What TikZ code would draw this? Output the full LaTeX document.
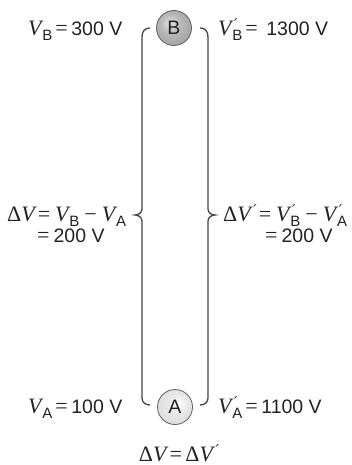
\documentclass[tikz,border=0pt]{standalone}
\usepackage{fontspec}
\setmainfont{Liberation Sans}
\newfontfamily\serifit{Liberation Serif}
\newfontfamily\dvs{DejaVu Serif}
\usetikzlibrary{calc}
\newcommand\SerSz{\fontsize{22}{24}\selectfont}
\newcommand\Vv{{\SerSz\serifit\itshape V}}
\newcommand\Dl{{\SerSz\serifit Δ}}
\newcommand\Sb[1]{\kern0.8pt\raisebox{-5pt}{\fontsize{15}{15}\selectfont #1}}
\newcommand\Prm{\rlap{\raisebox{6pt}{\kern2.5pt\fontsize{15}{15}\dvs\itshape ′}}}
\newcommand\Eq{\hspace{3pt}{\SerSz\serifit =}\hspace{3.5pt}}
\newcommand\Mn{\hspace{5pt}{\SerSz\serifit −}\hspace{5pt}}
\definecolor{txt}{HTML}{222222}
\definecolor{brk}{HTML}{444444}
\pgfdeclareradialshading{sphB}{\pgfpoint{-7bp}{8bp}}{color(0bp)=(black!12); color(14bp)=(black!28); color(30bp)=(black!36); color(50bp)=(black!52)}
\pgfdeclareradialshading{sphA}{\pgfpoint{6bp}{6bp}}{color(0bp)=(white); color(14bp)=(black!9); color(30bp)=(black!14); color(50bp)=(black!30)}
\tikzset{
  lbl/.style={font=\fontsize{19.5}{21}\selectfont, text=txt, inner sep=0pt, anchor=base west},
  sphere/.style={circle, minimum size=35pt, inner sep=0pt,
    font=\fontsize{19.5}{19.5}\selectfont, text=txt},
  rim/.style={draw=black!62, line width=0.8pt},
  bracket/.style={draw=brk, line width=1.3pt}
}
\begin{document}
\begin{tikzpicture}[x=1pt,y=-1pt]
\useasboundingbox (0,0) rectangle (351,465);
% balls
\shade[shading=sphB, rim] (174,28) circle (17.5);
\node[sphere] (B) at (174,28) {B};
\shade[shading=sphA, rim] (175,407) circle (17.5);
\node[sphere] (A) at (175,407) {A};
% bracket anchor coordinates
\coordinate (lt) at ($(B.center)+(-24,0)$);
\coordinate (rt) at ($(B.center)+(26,0)$);
\coordinate (lb) at ($(A.center)+(-25,-2)$);
\coordinate (rb) at ($(A.center)+(25,-2)$);
% left bracket
\draw[bracket] (lt) .. controls ($(lt)+(-5,0)$) and (142,31) .. (142,37) -- (142,209)
  .. controls (142,213) and (138,215) .. (135,215)
  .. controls (138,215) and (142,217) .. (142,221) -- (142,398)
  .. controls (142,402) and ($(lb)+(-5,0)$) .. (lb);
% right bracket
\draw[bracket] (rt) .. controls ($(rt)+(5,0)$) and (208,31) .. (208,37) -- (208,209)
  .. controls (208,213) and (212,215) .. (215,215)
  .. controls (212,215) and (208,217) .. (208,221) -- (208,398)
  .. controls (208,402) and ($(rb)+(5,0)$) .. (rb);
% labels
\node[lbl] (vb) at (28,36) {\Vv\Sb{B}\Eq 300 V};
\node[lbl] (vbp) at (218,36) {\Vv\Prm\Sb{B}\Eq\hspace{5pt}1300 V};
\node[lbl] (va) at (28,413) {\Vv\Sb{A}\Eq 100 V};
\node[lbl] (vap) at (218,413) {\Vv\Prm\Sb{A}\Eq 1100 V};
\node[lbl] (dl1) at (7,221) {\Dl\Vv\Eq\hspace{1.5pt}\Vv\Sb{B}\Mn\Vv\Sb{A}};
\node[lbl] (dl2) at (37,242.5) {{\SerSz\serifit =}\hspace{4pt}200 V};
\node[lbl] (dr1) at (223,221) {\Dl\Vv\Prm\hspace{5pt}\Eq\hspace{1.5pt}\Vv\Prm\Sb{B}\Mn\Vv\Prm\Sb{A}};
\node[lbl] (dr2) at (265,242.5) {{\SerSz\serifit =}\hspace{4pt}200 V};
\node[lbl, anchor=base] (eq) at (176,461) {\Dl\Vv\Eq\Dl\Vv\Prm\hspace{5pt}};
\end{tikzpicture}
\end{document}
